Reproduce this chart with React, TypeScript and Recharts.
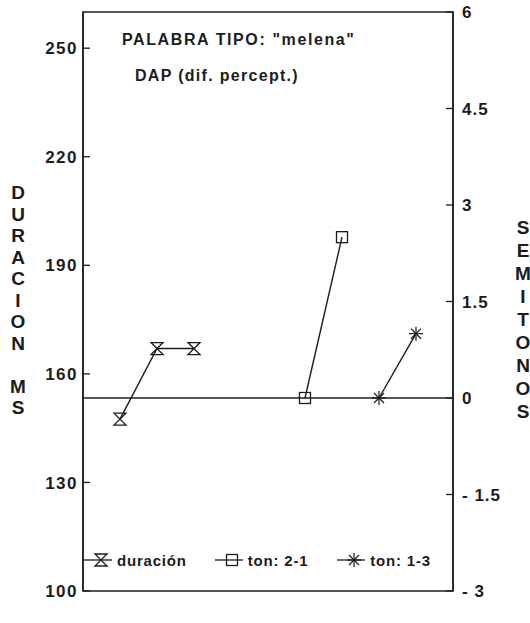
import React from "react";
import {
  LineChart,
  Line,
  XAxis,
  YAxis,
  ReferenceLine,
  ReferenceArea,
  Legend,
} from "recharts";

// duración (ms), left axis
const durX = [1, 2, 3];
const durMs = [147.5, 167, 167];
// tono (semitonos), right axis
const ton21X = [6, 7];
const ton21 = [0, 2.5];
const ton13X = [8, 9];
const ton13 = [0, 1];

const msTicks = [100, 130, 160, 190, 220, 250];
const stTicks = [-3, -1.5, 0, 1.5, 3, 4.5, 6];
const leftTitle = ["D", "U", "R", "A", "C", "I", "O", "N", "", "M", "S"];
const rightTitle = ["S", "E", "M", "I", "T", "O", "N", "O", "S"];
const title1 = 'PALABRA TIPO: "melena"';
const title2 = "DAP (dif. percept.)";

const ink = "#1c1c1c";
const font = "'Liberation Sans', Arial, sans-serif";

const durData = durX.map((x, i) => ({ x, v: durMs[i] }));
const t21Data = ton21X.map((x, i) => ({ x, v: ton21[i] }));
const t13Data = ton13X.map((x, i) => ({ x, v: ton13[i] }));

function Hourglass({ cx, cy, r = 6 }: { cx: number; cy: number; r?: number }) {
  return (
    <path
      d={`M${cx - r},${cy - r} H${cx + r} L${cx - r},${cy + r} H${cx + r} Z`}
      fill="none"
      stroke={ink}
      strokeWidth={1.3}
    />
  );
}

function Square({ cx, cy, r = 5.5 }: { cx: number; cy: number; r?: number }) {
  return (
    <rect x={cx - r} y={cy - r} width={r * 2} height={r * 2} fill="none" stroke={ink} strokeWidth={1.3} />
  );
}

function Star({ cx, cy, r = 7 }: { cx: number; cy: number; r?: number }) {
  const d = r * 0.72;
  return (
    <g stroke={ink} strokeWidth={1.2}>
      <line x1={cx} y1={cy - r} x2={cx} y2={cy + r} />
      <line x1={cx - r} y1={cy} x2={cx + r} y2={cy} />
      <line x1={cx - d} y1={cy - d} x2={cx + d} y2={cy + d} />
      <line x1={cx - d} y1={cy + d} x2={cx + d} y2={cy - d} />
    </g>
  );
}

const MsTick = (props: any) => {
  const { x, y, payload } = props;
  return (
    <g>
      <line x1={x + 5} x2={x + 12} y1={y} y2={y} stroke={ink} strokeWidth={1.3} />
      <text x={x} y={y} dy="0.36em" textAnchor="end" fill={ink} fontFamily={font} fontSize={17} fontWeight="bold" letterSpacing={1.5}>
        {payload.value}
      </text>
    </g>
  );
};

const StTick = (props: any) => {
  const { x, y, payload } = props;
  const v = payload.value;
  const label = v < 0 ? `- ${Math.abs(v)}` : `${v}`;
  return (
    <g>
      <line x1={x - 9} x2={x - 16} y1={y} y2={y} stroke={ink} strokeWidth={1.3} />
      <text x={x} y={y} dy="0.36em" textAnchor="start" fill={ink} fontFamily={font} fontSize={17} fontWeight="bold" letterSpacing={1}>
        {label}
      </text>
    </g>
  );
};

const legendItems = [
  { name: "duración", Mark: Hourglass, gap: 28 },
  { name: "ton: 2-1", Mark: Square, gap: 29 },
  { name: "ton: 1-3", Mark: Star, gap: 0 },
];

const LegendBox = () => (
  <div style={{ display: "flex", alignItems: "center", fontFamily: font, fontSize: 15, fontWeight: "bold", color: ink, letterSpacing: 0.8 }}>
    {legendItems.map(({ name, Mark, gap }) => (
      <div key={name} style={{ display: "flex", alignItems: "center", marginRight: gap }}>
        <svg width={30} height={18} style={{ marginRight: 3 }}>
          <line x1={0} x2={28} y1={9} y2={9} stroke={ink} strokeWidth={1.3} />
          <Mark cx={17} cy={9} />
        </svg>
        <span>{name}</span>
      </div>
    ))}
  </div>
);

export default function App() {
  return (
    <div style={{ position: "absolute", left: 0, top: 0, width: 530, height: 623, background: "#fff" }}>
      <LineChart width={530} height={623} margin={{ top: 12, right: 27, bottom: 14, left: 43 }}>
        <XAxis type="number" dataKey="x" domain={[0, 10]} hide />
        <YAxis
          yAxisId="ms"
          orientation="left"
          width={40}
          domain={[100, 260]}
          ticks={msTicks}
          tickSize={0}
          tickMargin={5}
          tickLine={false}
          axisLine={{ stroke: ink, strokeWidth: 1.5 }}
          tick={<MsTick />}
        />
        <YAxis
          yAxisId="st"
          orientation="right"
          width={50}
          domain={[-3, 6]}
          ticks={stTicks}
          tickSize={0}
          tickMargin={9}
          tickLine={false}
          axisLine={{ stroke: ink, strokeWidth: 1.5 }}
          tick={<StTick />}
        />
        <ReferenceArea yAxisId="ms" x1={0} x2={10} y1={100} y2={260} fill="none" stroke={ink} strokeWidth={1.5} />
        <ReferenceLine yAxisId="st" y={0} stroke={ink} strokeWidth={1.3} />
        <Line
          yAxisId="ms"
          data={durData}
          dataKey="v"
          stroke={ink}
          strokeWidth={1.4}
          isAnimationActive={false}
          dot={(p: any) => <Hourglass key={p.index} cx={p.cx} cy={p.cy} />}
        />
        <Line
          yAxisId="st"
          data={t21Data}
          dataKey="v"
          stroke={ink}
          strokeWidth={1.4}
          isAnimationActive={false}
          dot={(p: any) => <Square key={p.index} cx={p.cx} cy={p.cy} />}
        />
        <Line
          yAxisId="st"
          data={t13Data}
          dataKey="v"
          stroke={ink}
          strokeWidth={1.4}
          isAnimationActive={false}
          dot={(p: any) => <Star key={p.index} cx={p.cx} cy={p.cy} />}
        />
        <Legend
          content={<LegendBox />}
          wrapperStyle={{ position: "absolute", left: 84, top: 551, width: "auto" }}
        />
      </LineChart>
      <div style={{ position: "absolute", left: 122, top: 30, fontFamily: font, fontSize: 16, fontWeight: "bold", color: ink, letterSpacing: 1.6, lineHeight: "20px", whiteSpace: "nowrap" }}>
        {title1}
      </div>
      <div style={{ position: "absolute", left: 135, top: 66, fontFamily: font, fontSize: 16, fontWeight: "bold", color: ink, letterSpacing: 1.3, lineHeight: "20px", whiteSpace: "nowrap" }}>
        {title2}
      </div>
      <div style={{ position: "absolute", left: 6, top: 182, width: 24, textAlign: "center", fontFamily: font, fontSize: 19, fontWeight: "bold", color: ink, lineHeight: "21.5px" }}>
        {leftTitle.map((c, i) => (
          <div key={i} style={{ height: 21.5 }}>{c}</div>
        ))}
      </div>
      <div style={{ position: "absolute", left: 511, top: 215.5, width: 24, textAlign: "center", fontFamily: font, fontSize: 19, fontWeight: "bold", color: ink, lineHeight: "23px" }}>
        {rightTitle.map((c, i) => (
          <div key={i} style={{ height: 23 }}>{c}</div>
        ))}
      </div>
    </div>
  );
}
